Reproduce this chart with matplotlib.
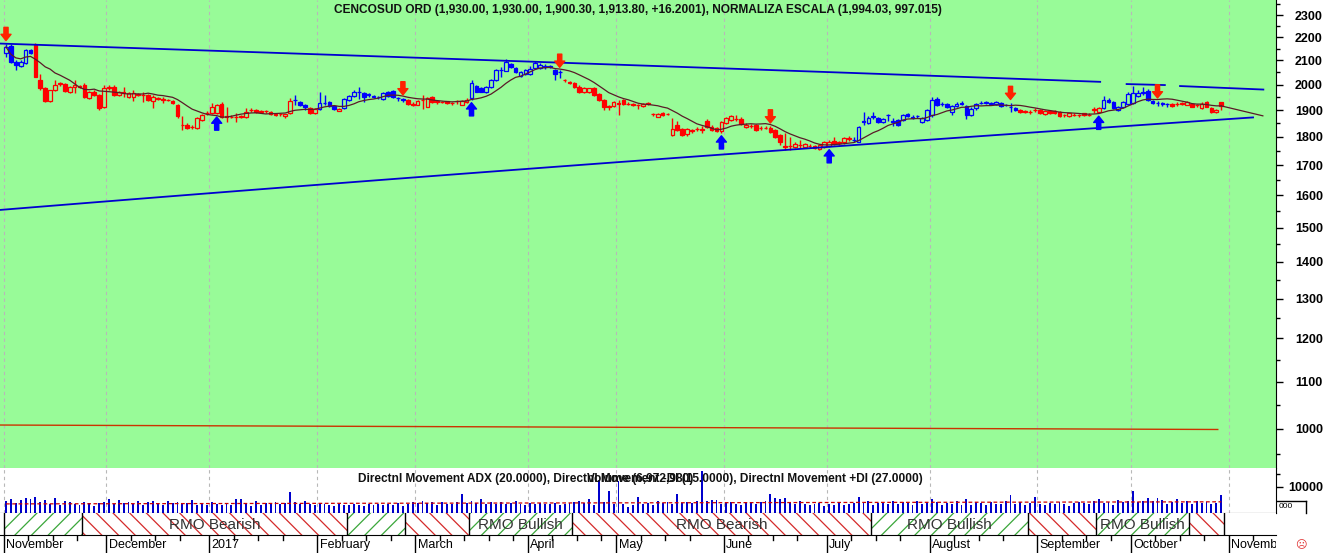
import numpy as np
import pandas as pd
import matplotlib
matplotlib.use("Agg")
import matplotlib.pyplot as plt
from matplotlib.patches import Rectangle
from matplotlib.ticker import FixedLocator, NullFormatter

plt.rcParams['font.family'] = ['Liberation Sans', 'DejaVu Sans']
plt.rcParams['hatch.linewidth'] = 0.9

# ---------------- data ----------------
opens = [2131, 2161, 2094, 2076, 2088, 2144, 2165, 2018, 1985, 1936,
         1978, 2003, 2002, 1971, 1991, 1993, 1998, 1945, 1971, 1958,
         1913, 1986, 1991, 1958, 1971, 1951, 1951, 1960, 1959, 1958,
         1936, 1944, 1940, 1940, 1936, 1919, 1845, 1843, 1837, 1832,
         1862, 1887, 1888, 1888, 1923, 1875, 1875, 1874, 1875, 1874,
         1899, 1900, 1897, 1895, 1893, 1886, 1884, 1878, 1888, 1938,
         1932, 1919, 1907, 1888, 1905, 1928, 1932, 1916, 1897, 1907,
         1939, 1954, 1970, 1966, 1960, 1952, 1950, 1943, 1970, 1974,
         1946, 1942, 1940, 1925, 1920, 1938, 1913, 1951, 1936, 1931,
         1933, 1927, 1933, 1920, 1932, 1945, 1994, 1988, 1972, 1991,
         2018, 2058, 2057, 2086, 2067, 2035, 2043, 2045, 2068, 2068,
         2075, 2078, 2058, 2050, 2020, 2012, 2005, 1990, 1970, 1970,
         1985, 1964, 1939, 1914, 1914, 1926, 1937, 1924, 1922, 1920,
         1915, 1925, 1884, 1875, 1888, 1884, 1807, 1843, 1829, 1810,
         1822, 1828, 1827, 1860, 1838, 1832, 1820, 1852, 1862, 1866,
         1866, 1836, 1841, 1843, 1832, 1833, 1831, 1825, 1807, 1766,
         1768, 1765, 1770, 1765, 1768, 1768, 1757, 1765, 1768, 1784,
         1779, 1780, 1794, 1790, 1783, 1855, 1852, 1875, 1870, 1853,
         1880, 1857, 1862, 1862, 1885, 1872, 1876, 1856, 1862, 1880,
         1941, 1922, 1923, 1894, 1916, 1925, 1916, 1881, 1906, 1928,
         1929, 1926, 1922, 1926, 1920, 1912, 1908, 1900, 1895, 1894,
         1899, 1900, 1886, 1897, 1896, 1891, 1881, 1878, 1882, 1880,
         1887, 1882, 1902, 1893, 1907, 1938, 1932, 1900, 1911, 1925,
         1929, 1955, 1968, 1975, 1936, 1928, 1926, 1923, 1923, 1922,
         1924, 1921, 1923, 1918, 1907, 1930, 1908, 1891, 1930]
highs = [2172, 2169, 2100, 2100, 2150, 2150, 2175, 2045, 1990, 1980,
         2018, 2012, 2005, 1995, 2018, 1998, 2005, 1975, 1980, 1962,
         1998, 1998, 1998, 1975, 1991, 1970, 1978, 1968, 1971, 1962,
         1958, 1950, 1951, 1943, 1940, 1925, 1876, 1850, 1845, 1872,
         1885, 1895, 1927, 1925, 1932, 1913, 1880, 1888, 1882, 1907,
         1907, 1905, 1900, 1900, 1897, 1890, 1890, 1886, 1945, 1958,
         1936, 1922, 1910, 1908, 1970, 1958, 1936, 1918, 1908, 1945,
         1960, 1980, 1990, 1972, 1968, 1958, 1955, 1972, 1975, 1978,
         1952, 1947, 1942, 1930, 1940, 1960, 1950, 1955, 1940, 1936,
         1936, 1932, 1940, 1938, 1945, 2018, 2000, 1992, 1994, 2022,
         2065, 2072, 2104, 2090, 2070, 2055, 2065, 2075, 2098, 2090,
         2085, 2082, 2062, 2058, 2024, 2016, 2010, 2000, 1992, 1988,
         1990, 1968, 1942, 1920, 1936, 1940, 1942, 1930, 1928, 1925,
         1928, 1930, 1890, 1890, 1892, 1890, 1868, 1860, 1832, 1832,
         1830, 1835, 1840, 1866, 1842, 1836, 1858, 1875, 1882, 1880,
         1872, 1850, 1848, 1848, 1840, 1840, 1840, 1828, 1810, 1815,
         1800, 1780, 1790, 1778, 1775, 1772, 1775, 1785, 1788, 1798,
         1785, 1798, 1805, 1798, 1840, 1893, 1878, 1893, 1874, 1870,
         1885, 1870, 1866, 1885, 1890, 1880, 1882, 1872, 1905, 1950,
         1950, 1930, 1928, 1918, 1930, 1935, 1920, 1910, 1928, 1935,
         1936, 1932, 1935, 1932, 1925, 1929, 1912, 1904, 1902, 1900,
         1906, 1904, 1900, 1900, 1899, 1895, 1886, 1890, 1888, 1886,
         1890, 1888, 1912, 1910, 1954, 1945, 1936, 1916, 1936, 1970,
         1994, 1980, 1990, 1982, 1940, 1935, 1932, 1928, 1926, 1930,
         1932, 1935, 1927, 1925, 1932, 1935, 1912, 1905, 1930]
lows = [2115, 2088, 2059, 2070, 2085, 2125, 2030, 1978, 1932, 1932,
        1975, 1995, 1970, 1968, 1966, 1985, 1948, 1943, 1955, 1900,
        1908, 1980, 1955, 1955, 1951, 1948, 1935, 1955, 1932, 1935,
        1907, 1940, 1927, 1935, 1925, 1869, 1825, 1828, 1830, 1828,
        1860, 1880, 1885, 1885, 1870, 1856, 1868, 1856, 1870, 1870,
        1893, 1890, 1888, 1890, 1880, 1878, 1878, 1870, 1885, 1920,
        1915, 1900, 1886, 1885, 1900, 1920, 1912, 1900, 1895, 1905,
        1936, 1950, 1941, 1930, 1950, 1945, 1944, 1940, 1950, 1948,
        1935, 1930, 1920, 1915, 1918, 1905, 1910, 1928, 1925, 1926,
        1922, 1920, 1922, 1918, 1928, 1940, 1970, 1970, 1968, 1988,
        2015, 2030, 2055, 2068, 2048, 2030, 2040, 2040, 2062, 2062,
        2065, 2068, 2018, 2026, 2012, 2002, 1985, 1966, 1965, 1965,
        1955, 1936, 1900, 1900, 1910, 1880, 1920, 1918, 1915, 1905,
        1912, 1920, 1878, 1872, 1878, 1880, 1805, 1820, 1803, 1805,
        1815, 1822, 1815, 1832, 1822, 1818, 1815, 1848, 1858, 1860,
        1845, 1832, 1832, 1820, 1825, 1828, 1815, 1795, 1770, 1753,
        1753, 1760, 1760, 1760, 1760, 1755, 1752, 1760, 1765, 1772,
        1772, 1776, 1785, 1782, 1780, 1843, 1848, 1866, 1850, 1850,
        1860, 1840, 1840, 1858, 1872, 1865, 1870, 1852, 1858, 1875,
        1915, 1915, 1908, 1880, 1912, 1920, 1865, 1876, 1902, 1922,
        1924, 1920, 1918, 1912, 1914, 1893, 1895, 1890, 1888, 1886,
        1892, 1885, 1882, 1886, 1884, 1874, 1875, 1874, 1876, 1875,
        1876, 1876, 1888, 1888, 1904, 1928, 1903, 1896, 1906, 1920,
        1925, 1950, 1960, 1935, 1925, 1915, 1915, 1910, 1912, 1915,
        1918, 1918, 1910, 1912, 1904, 1910, 1890, 1888, 1900]
closes = [2157, 2094, 2080, 2094, 2144, 2131, 2032, 1985, 1936, 1978,
          1998, 2005, 1975, 1991, 1998, 1991, 1951, 1971, 1958, 1907,
          1985, 1989, 1958, 1971, 1965, 1965, 1965, 1961, 1958, 1939,
          1951, 1945, 1941, 1939, 1929, 1876, 1843, 1832, 1838, 1869,
          1881, 1888, 1913, 1919, 1874, 1876, 1874, 1875, 1876, 1894,
          1900, 1894, 1892, 1896, 1885, 1881, 1885, 1884, 1936, 1939,
          1919, 1910, 1888, 1904, 1927, 1929, 1916, 1904, 1904, 1941,
          1954, 1971, 1971, 1951, 1962, 1953, 1949, 1966, 1954, 1951,
          1945, 1939, 1925, 1920, 1936, 1940, 1947, 1932, 1930, 1932,
          1926, 1928, 1934, 1936, 1940, 2005, 1972, 1972, 1990, 2018,
          2059, 2059, 2094, 2072, 2052, 2050, 2059, 2065, 2087, 2080,
          2074, 2072, 2045, 2050, 2018, 2006, 1990, 1972, 1988, 1985,
          1958, 1939, 1910, 1912, 1932, 1925, 1924, 1923, 1921, 1919,
          1925, 1926, 1884, 1886, 1882, 1885, 1829, 1825, 1807, 1828,
          1825, 1829, 1828, 1838, 1825, 1822, 1853, 1869, 1876, 1866,
          1849, 1845, 1840, 1825, 1831, 1834, 1819, 1801, 1783, 1765,
          1767, 1775, 1772, 1773, 1767, 1761, 1771, 1780, 1782, 1776,
          1780, 1795, 1795, 1789, 1837, 1857, 1870, 1876, 1853, 1866,
          1881, 1856, 1843, 1881, 1876, 1870, 1876, 1870, 1900, 1939,
          1919, 1923, 1911, 1916, 1925, 1926, 1881, 1905, 1923, 1929,
          1930, 1925, 1930, 1916, 1919, 1911, 1899, 1894, 1894, 1893,
          1900, 1888, 1897, 1890, 1889, 1876, 1880, 1888, 1881, 1880,
          1880, 1882, 1903, 1906, 1939, 1932, 1907, 1913, 1930, 1962,
          1965, 1966, 1969, 1939, 1926, 1929, 1925, 1922, 1915, 1923,
          1926, 1931, 1913, 1919, 1925, 1913, 1894, 1902, 1914]
volumes = [4600, 5400, 3900, 5000, 5800, 5200, 6100, 4400, 5000, 3600,
           5600, 3200, 4600, 4400, 3300, 2900, 4200, 3700, 2700, 3800,
           4100, 5400, 3300, 4900, 3900, 4300, 3600, 4800, 3000, 4200,
           4500, 3400, 3100, 4700, 3800, 4400, 3300, 3900, 4900, 3200,
           3600, 3000, 4400, 3300, 2900, 3800, 3200, 5200, 5400, 3400,
           2800, 4500, 3100, 3900, 3600, 4300, 3400, 3800, 8000, 4200,
           3500, 4600, 3300, 3000, 3900, 3400, 3100, 2700, 3600, 3200,
           2900, 3400, 3200, 2800, 3500, 3100, 3300, 2900, 3600, 3000,
           3800, 2600, 3400, 4300, 3700, 4600, 3900, 4400, 3200, 4100,
           3500, 3600, 4300, 7400, 3900, 4600, 3800, 5500, 3500, 4200,
           3600, 4100, 3300, 3900, 4500, 3400, 3200, 3700, 3500, 4000,
           3300, 3600, 3800, 3100, 3500, 3900, 4300, 4800, 3800, 5200,
           3200, 12600, 4200, 8500, 3600, 12300, 3400, 2400, 3000, 6200,
           3500, 4000, 3100, 4600, 3700, 4400, 3300, 7200, 3900, 4300,
           3700, 4800, 16200, 4500, 5100, 4900, 3400, 3800, 4200, 3600,
           3100, 3900, 3700, 3300, 4100, 4500, 7200, 5600, 5400, 5800,
           4200, 3600, 4800, 3300, 2900, 3400, 3800, 2700, 3500, 3200,
           4100, 3000, 3400, 3700, 6200, 3800, 4500, 3200, 3900, 4400,
           3600, 4800, 3300, 4200, 3900, 3000, 4600, 3500, 4100, 5300,
           4400, 3100, 3700, 3400, 4800, 3200, 5200, 3000, 4100, 3700,
           2900, 4300, 3600, 3300, 4600, 7000, 3500, 4300, 3100, 3800,
           6000, 3400, 3200, 3900, 3600, 4100, 3300, 2600, 3900, 4100,
           3700, 3300, 4600, 5200, 3900, 4400, 3200, 5000, 4200, 4600,
           8300, 4100, 4700, 5800, 4500, 5600, 4900, 3600, 4300, 5200,
           3900, 4500, 3400, 4600, 3800, 4200, 3300, 3700, 6973]

# bars drawn blue (up-trend); all others red
trend_up_start = [0, 59, 64, 69, 95, 173, 224]
trend_up_end = [5, 61, 67, 81, 113, 206, 237]
sell_signal_bars = [0, 81, 113, 156, 205, 235]
buy_signal_bars = [43, 95, 146, 168, 223]

month_labels = ['November', 'December', '2017', 'February', 'March', 'April', 'May',
                'June', 'July', 'August', 'September', 'October', 'November']
month_start_bars = [0, 21, 42, 64, 84, 107, 125, 147, 168, 189, 211, 230, 250]

rmo_start = [0, 16, 70, 82, 95, 116, 177, 209, 223, 242]
rmo_end = [15, 69, 81, 94, 115, 176, 208, 222, 241, 248]
rmo_state = ['Bullish', 'Bearish', 'Bullish', 'Bearish', 'Bullish', 'Bearish',
             'Bullish', 'Bearish', 'Bullish', 'Bearish']

upper_trend_bars, upper_trend_prices = [-1.2, 223.3], [2172, 2011]
lower_trend_bars, lower_trend_prices = [-1.2, 254.5], [1554, 1872]
resist1_bars, resist1_prices = [228.7, 236.5], [2002, 1998]
resist2_bars, resist2_prices = [239.6, 256.6], [1994, 1980]
norm_bars, norm_values = [-1.2, 247.3], [1008, 999]
ma_period = 10
ma_proj_bar, ma_proj_price = 256.5, 1878
vol_avg_values = [3500, 4300]

price_ticks = [1000, 1100, 1200, 1300, 1400, 1500, 1600, 1700, 1800, 1900, 2000, 2100, 2200, 2300]
price_minor = [950, 1050, 1150, 1250, 1350, 1450, 1550, 1650, 1750, 1850, 1950, 2050, 2150, 2250, 2350]

title = ("CENCOSUD ORD (1,930.00, 1,930.00, 1,900.30, 1,913.80, +16.2001), "
         "NORMALIZA ESCALA (1,994.03, 997.015)")
dmi_text = ("Directnl Movement ADX (20.0000), Directnl Movement -DI (15.0000), "
            "Directnl Movement +DI (27.0000)")
vol_text = "Volume (6,972,980)"

# ---------------- figure ----------------
W, H = 1327, 553
fig = plt.figure(figsize=(W / 100, H / 100), dpi=100, facecolor='white')


def ax_px(x0, y0, x1, y1, **kw):
    return fig.add_axes([x0 / W, 1 - y1 / H, (x1 - x0) / W, (y1 - y0) / H], **kw)


AX_R = 1276
XL = (-1.2245, (AX_R - 6) / 4.9)
GREEN = '#98fb98'
BLUE = '#0000ff'
RED = '#ff0000'
GRID = '#b8b8b8'

n = len(closes)
idx = np.arange(n)
is_up = np.zeros(n, dtype=bool)
for s, e in zip(trend_up_start, trend_up_end):
    is_up[s:e + 1] = True

# ---- main price panel ----
ax = ax_px(0, 0, AX_R, 468, facecolor=GREEN)
ax.set_yscale('log')
ax.set_xlim(*XL)
ax.set_ylim(924.5, 2371)
for s in month_start_bars:
    ax.axvline(s - 0.5, color=GRID, lw=0.8, ls=(0, (3, 3)), zorder=0.5)

w = 0.74
for i in range(n):
    c = BLUE if is_up[i] else RED
    ax.vlines(i, lows[i], highs[i], color=c, lw=1.0, zorder=2)
    o, cl = opens[i], closes[i]
    lo, hi = min(o, cl), max(o, cl)
    face = GREEN if cl >= o else c
    ax.add_patch(Rectangle((i - w / 2, lo), w, max(hi - lo, 0.01), facecolor=face,
                           edgecolor=c, lw=0.9, zorder=2.5))

ma = pd.Series(closes, dtype=float).rolling(ma_period, min_periods=1).mean().to_numpy()
ax.plot(idx, ma, color='#5a1a28', lw=0.9, zorder=3)
ax.plot([idx[-1], ma_proj_bar], [ma[-1], ma_proj_price], color='#5a1a28', lw=0.9, zorder=3)


def price_line(bx, py, **kw):
    t = np.linspace(0, 1, 60)
    ax.plot(bx[0] + t * (bx[1] - bx[0]), py[0] + t * (py[1] - py[0]), **kw)


for bx, py in [(upper_trend_bars, upper_trend_prices), (lower_trend_bars, lower_trend_prices),
               (resist1_bars, resist1_prices), (resist2_bars, resist2_prices)]:
    price_line(bx, py, color='#0000d0', lw=1.3, zorder=3.2)
price_line(norm_bars, norm_values, color='#cc3300', lw=1.0, zorder=3)

off = np.exp(3 / 497)
arrow_kw = dict(arrowstyle='simple,head_length=0.45,head_width=0.72,tail_width=0.3',
                shrinkA=0, shrinkB=0, mutation_scale=10)
for b in sell_signal_bars:
    ax.annotate('', xy=(b, highs[b] * off), xytext=(0, 9.5), textcoords='offset points',
                arrowprops=dict(color='#ff2200', **arrow_kw), zorder=4)
for b in buy_signal_bars:
    ax.annotate('', xy=(b, lows[b] / off), xytext=(0, -9.5), textcoords='offset points',
                arrowprops=dict(color=BLUE, **arrow_kw), zorder=4)

for sp in ['left', 'top', 'bottom']:
    ax.spines[sp].set_visible(False)
ax.spines['right'].set_color('black')
ax.set_xticks([])
ax.yaxis.tick_right()
ax.yaxis.set_major_locator(FixedLocator(price_ticks))
ax.yaxis.set_minor_locator(FixedLocator(price_minor))
ax.yaxis.set_minor_formatter(NullFormatter())
ax.set_yticklabels([str(p) for p in price_ticks], fontweight='bold', fontsize=9)
ax.tick_params(axis='y', which='major', direction='out', length=5, width=1, pad=8.5)
ax.tick_params(axis='y', which='minor', direction='out', length=3, width=1)
ax.text(0.5, 1 - 10 / 468, title, transform=ax.transAxes, ha='center', va='center',
        fontsize=8.6, fontweight='bold', color='#111111', zorder=5)

# ---- volume panel ----
av = ax_px(0, 468, AX_R, 513, facecolor='white')
av.set_xlim(*XL)
av.set_ylim(0, 17300)
for s in month_start_bars:
    av.axvline(s - 0.5, color=GRID, lw=0.8, ls=(0, (3, 3)), zorder=0.5)
av.bar(idx, volumes, width=0.4, color='#0000cc', zorder=2)
av.plot([0, n - 1], vol_avg_values, color='#cc0000', lw=0.9, ls=(0, (3, 2)), zorder=3)
for sp in ['left', 'top']:
    av.spines[sp].set_visible(False)
av.spines['right'].set_color('black')
av.spines['bottom'].set_color('black')
av.set_xticks([])
av.yaxis.tick_right()
av.yaxis.set_major_locator(FixedLocator([10000]))
av.yaxis.set_minor_locator(FixedLocator([15000]))
av.yaxis.set_minor_formatter(NullFormatter())
av.set_yticklabels(['10000'], fontweight='bold', fontsize=9)
av.tick_params(axis='y', which='major', direction='out', length=5, width=1, pad=4)
av.tick_params(axis='y', which='minor', direction='out', length=3, width=1)
av.text(640 / AX_R, 1 - 11 / 45, dmi_text, transform=av.transAxes, ha='center', va='center',
        fontsize=8.6, fontweight='bold', color='#111111', zorder=5)
av.text(640 / AX_R, 1 - 11 / 45, vol_text, transform=av.transAxes, ha='center', va='center',
        fontsize=8.6, fontweight='bold', color='#111111', zorder=5)

# ---- RMO band ----
ar = ax_px(0, 513, AX_R, 535, facecolor='white')
ar.set_xlim(*XL)
ar.set_ylim(0, 1)
for s, e, st in zip(rmo_start, rmo_end, rmo_state):
    hc = '#3aa63a' if st == 'Bullish' else '#d42a2a'
    hatch = '//' if st == 'Bullish' else '\\\\'
    ar.add_patch(Rectangle((s - 0.5, 0), e - s + 1, 1, facecolor='white', edgecolor=hc,
                           hatch=hatch, lw=0, zorder=1))
    ar.axvline(s - 0.5, color='black', lw=1, zorder=3)
    if e - s + 1 >= 18:
        ar.text((s + e) / 2, 0.47, 'RMO ' + st, ha='center', va='center', fontsize=11,
                color='#333333', zorder=4)
ar.axvline(rmo_end[-1] + 0.5, color='black', lw=1, zorder=3)
for sp in ar.spines.values():
    sp.set_visible(False)
ar.set_xticks([])
ar.set_yticks([])

# ---- date axis ----
ad = ax_px(0, 535, AX_R, 553, facecolor='white')
ad.set_xlim(*XL)
ad.set_ylim(0, 1)
for sp in ['left', 'right', 'bottom']:
    ad.spines[sp].set_visible(False)
ad.spines['top'].set_color('black')
ad.set_xticks([])
ad.set_yticks([])
for k, (s, lab) in enumerate(zip(month_start_bars, month_labels)):
    ad.axvline(s - 0.5, color='black', lw=1)
    nxt = month_start_bars[k + 1] if k + 1 < len(month_start_bars) else s + 22
    pos = s - 0.5 + 5
    while pos < nxt - 2.5:
        ad.plot([pos, pos], [0.74, 1], color='black', lw=1)
        pos += 5
    ad.text(s - 0.5 + 0.5, 0.42, lab, ha='left', va='center', fontsize=9, color='black',
            clip_on=True)

# small clipped volume label box and status glyph on the right margin
fig.add_artist(plt.Line2D([1277 / W, 1306 / W], [1 - 501 / H, 1 - 501 / H], color='black', lw=1))
fig.add_artist(plt.Line2D([1306 / W, 1306 / W], [1 - 501 / H, 1 - 513 / H], color='black', lw=1))
fig.text(1279 / W, 1 - 507 / H, '000', fontsize=6, ha='left', va='center')
fig.text(1301 / W, 1 - 545 / H, '\u2639', fontsize=8, color='#e03030', ha='center', va='center',
         family=['DejaVu Sans'])

fig.savefig('out.png', dpi=100, facecolor='white')
